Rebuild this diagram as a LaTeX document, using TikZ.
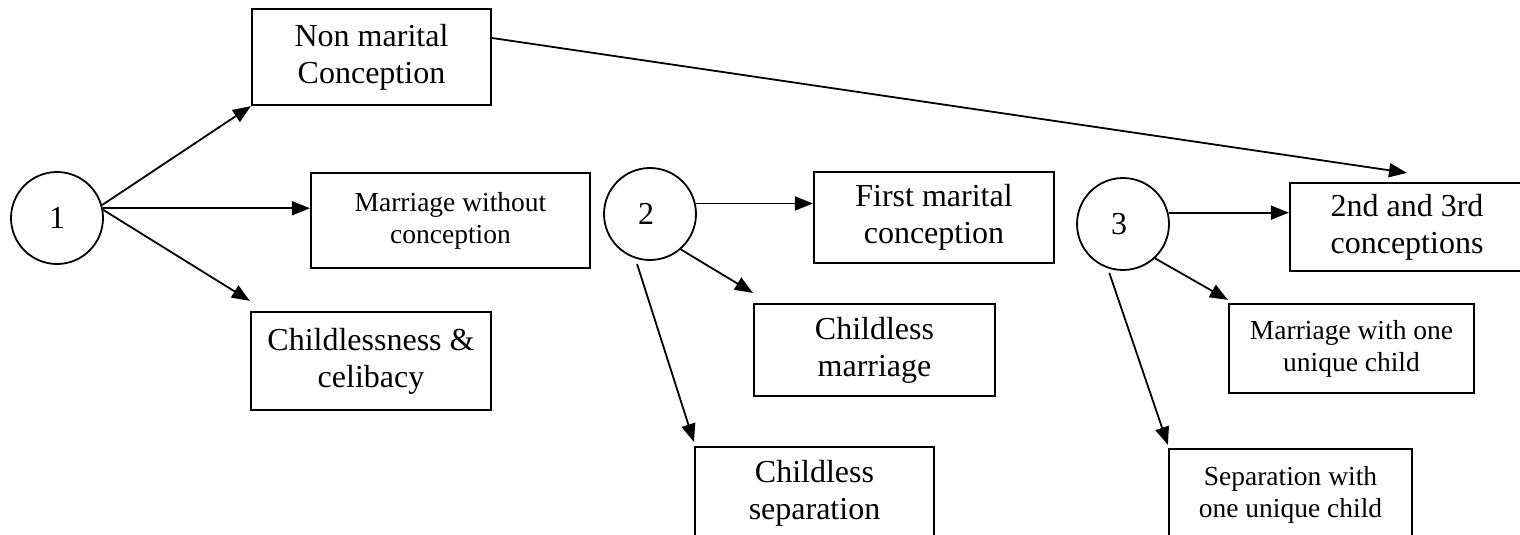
\documentclass[tikz,border=0pt]{standalone}
\usepackage{fontspec}
\setmainfont{Liberation Serif}
\usepackage{tikz}
\usetikzlibrary{calc}
\usetikzlibrary{arrows.meta}

\begin{document}
\begin{tikzpicture}[x=1pt, y=-1pt,
        stage/.style={circle, draw, line width=1.8pt, minimum size=92pt, inner sep=0pt, font=\fontsize{32}{37}\selectfont},
        bigbox/.style={rectangle, draw, line width=2.2pt, inner sep=0pt, align=center, font=\fontsize{32}{37}\selectfont},
        smallbox/.style={rectangle, draw, line width=2.2pt, inner sep=0pt, align=center, font=\fontsize{27.5}{32}\selectfont}]
            \useasboundingbox (0,0) rectangle (1520,535);

            \begin{scope}
                \node[stage] (c1) at (57,218) {1};
                \node[stage] (c2) at (650,214) {\hspace{-8pt}2};
                \node[stage] (c3) at (1123,224) {\hspace{-8pt}3};

                \node[bigbox, minimum width=239pt, minimum height=96pt] (nonmarital) at (371.5,57) {Non marital\\Conception};
                \node[smallbox, minimum width=279pt, minimum height=95pt] (marriagewo) at (450.5,220.5) {Marriage without\\conception};
                \node[bigbox, minimum width=240pt, minimum height=98pt] (childlessness) at (371,361) {Childlessness \&\\celibacy};

                \node[bigbox, minimum width=240pt, minimum height=91pt] (firstmarital) at (934,217.5) {First marital\\conception};
                \node[bigbox, minimum width=241pt, minimum height=92pt] (childlessmar) at (874.5,350) {Childless\\marriage};
                \node[bigbox, minimum width=239pt, minimum height=92pt] (childlesssep) at (814.5,493) {Childless\\separation};

                \node[bigbox, minimum width=234pt, minimum height=88pt] (secondthird) at (1407,227) {2nd and 3rd\\conceptions};
                \node[smallbox, minimum width=245pt, minimum height=89pt] (marriageone) at (1351.5,348.5) {Marriage with one\\unique child};
                \node[smallbox, minimum width=243pt, minimum height=92pt] (separationone) at (1290.5,495) {Separation with\\one unique child};
            \end{scope}

            \begin{scope}[every edge/.style={draw=black, line width=1.8pt, -{Triangle[length=18pt, width=14pt]}}]
                \path (c1.16) edge (nonmarital.south west);
                \path (c1.12) edge (c1.12 -| marriagewo.west);
                \path (c1.10) edge ([yshift=10pt]childlessness.north west);
                \path (c2.13) edge (c2.13 -| firstmarital.west);
                \path (c2.-49) edge ([yshift=10pt]childlessmar.north west);
                \path ([yshift=-5pt]c2.-106) edge ([yshift=4pt]childlesssep.north west);
                \path (c3.14) edge (c3.14 -| secondthird.west);
                \path (c3.-47) edge ([yshift=3pt]marriageone.north west);
                \path ([yshift=-4pt]c3.-107) edge ([yshift=3pt]separationone.north west);
                \path ([yshift=19pt]nonmarital.east) edge ([yshift=9pt]secondthird.north);
            \end{scope}
        \end{tikzpicture}
\end{document}
